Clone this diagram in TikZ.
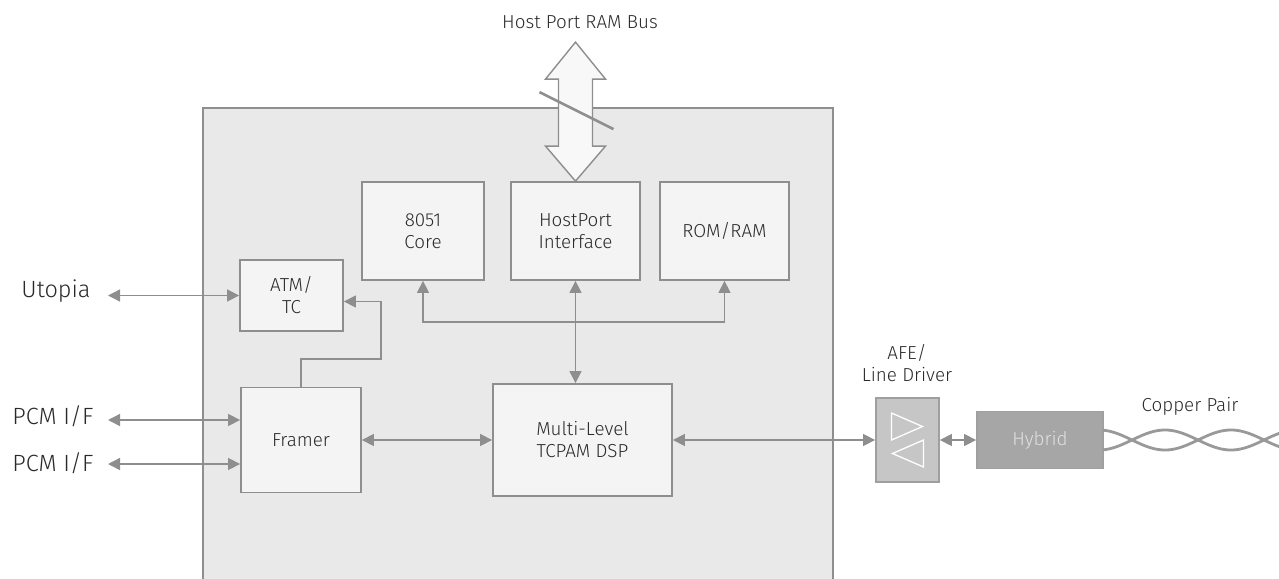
\documentclass[tikz,border=0pt]{standalone}
\usepackage{fontspec}
\setmainfont{Fira Sans Light}
\usepackage{xcolor}
\usepackage{tikz}
\usetikzlibrary{positioning,calc,arrows.meta}

\definecolor{edge}{HTML}{8E8E8E}
\definecolor{chipfill}{HTML}{E9E9E9}
\definecolor{boxfill}{HTML}{F4F4F4}
\definecolor{afefill}{HTML}{C6C6C6}
\definecolor{hybfill}{HTML}{A6A6A6}
\definecolor{ink}{HTML}{2A2A2A}
\newcommand{\lblfont}{\fontsize{18.8}{22}\selectfont}
\newcommand{\bigfont}{\fontsize{23.5}{26}\selectfont}

\begin{document}
\begin{tikzpicture}[x=1pt, y=-1pt,
    blk/.style={draw=edge, fill=boxfill, line width=1.8pt, align=center, text=ink, font=\lblfont, inner sep=0pt},
    lbl/.style={align=center, text=ink, font=\lblfont},
    link/.style={draw=edge, line width=1.4pt},
    dbl/.style={link, {Triangle[length=12pt,width=12pt]}-{Triangle[length=12pt,width=12pt]}},
    sgl/.style={link, -{Triangle[length=12pt,width=12pt]}}]
    \useasboundingbox (0,0) rectangle (1279,578);
    \clip (0,0) rectangle (1279,578);

    % chip outline
    \draw[draw=edge, fill=chipfill, line width=1.8pt] (203,108) rectangle (833,600);

    % blocks inside the chip
    \node[blk, minimum width=122pt, minimum height=98pt] (core) at (423,231) {8051\\Core};
    \node[blk, minimum width=129pt, minimum height=98pt] (hpi) at (575.5,231) {HostPort\\Interface};
    \node[blk, minimum width=129pt, minimum height=98pt] (mem) at (724.5,231) {ROM/RAM};
    \node[blk, minimum width=103pt, minimum height=71pt] (atm) at (291.5,295.5) {ATM/\\TC};
    \node[blk, minimum width=120pt, minimum height=105pt] (framer) at (301,440) {Framer};
    \node[blk, minimum width=179pt, minimum height=112pt] (dsp) at (582.5,440) {Multi-Level\\TCPAM DSP};

    % host bus
    \draw[draw=edge, fill=boxfill!60!white, line width=1.4pt] (hpi.north) -- ++(-30,-35) -- ++(13,0) -- ++(0,-67) -- ++(-13,0)
        -- ++(30,-37) coordinate (bustip) -- ++(30,37) -- ++(-13,0) -- ++(0,67) -- ++(13,0) -- cycle;
    \draw[draw=edge, line width=2.6pt] ($(bustip)+(-36,50)$) -- ($(bustip)+(38,87)$);
    \node[lbl] (buslbl) at (580,22) {Host Port RAM Bus};

    % line side
    \node[blk, draw=edge!85!white, fill=afefill, minimum width=63pt, minimum height=84pt] (afe) at (907.5,440) {};
    \draw[white, line width=1.3pt] ($(afe)+(-16,-27)$) -- ($(afe)+(-16,0)$) -- ($(afe)+(15,-13.5)$) -- cycle;
    \draw[white, line width=1.3pt] ($(afe)+(16,0)$) -- ($(afe)+(16,27)$) -- ($(afe)+(-15,13.5)$) -- cycle;
    \node[lbl] (afelbl) at (907,363) {AFE/\\Line Driver};
    \node[blk, draw=edge!85!white, fill=hybfill, text=white!88!black, minimum width=126pt, minimum height=57pt] (hyb) at (1040,440) {Hybrid};
    \node[lbl] (cplbl) at (1190,406) {Copper Pair};

    % twisted pair
    \draw[edge!90!white, line width=2.8pt, domain=1103:1290, samples=120] plot (\x, {440 - 10*cos(2.7273*(\x-1099))});
    \draw[edge!90!white, line width=2.8pt, domain=1103:1290, samples=120] plot (\x, {440 + 10*cos(2.7273*(\x-1099))});

    % outside signals
    \node[text=ink, font=\bigfont] (utopia) at (56,291) {Utopia};
    \node[text=ink, font=\bigfont] (pcma) at (53,416) {PCM I/F};
    \node[text=ink, font=\bigfont] (pcmb) at (53,463) {PCM I/F};
    \coordinate (ua) at (108,295.5);
    \coordinate (pa) at (108,420);
    \coordinate (pb) at (108,464);
    \draw[dbl] (ua) -- (atm.west);
    \draw[dbl] (pa) -- (pa -| framer.west);
    \draw[dbl] (pb) -- (pb -| framer.west);

    % internal connections
    \coordinate (fb) at (381,359);
    \draw[sgl] (framer.north) |- (fb) |- ([yshift=-6pt]atm.east);
    \draw[dbl] (core.south) -- ++(0,41) -| (mem.south);
    \draw[dbl] (hpi.south) -- (hpi.south |- dsp.north);
    \draw[dbl] (framer.east) -- (dsp.west);
    \draw[dbl] (dsp.east) -- (afe.west);
    \draw[dbl] (afe.east) -- (hyb.west);
\end{tikzpicture}
\end{document}
